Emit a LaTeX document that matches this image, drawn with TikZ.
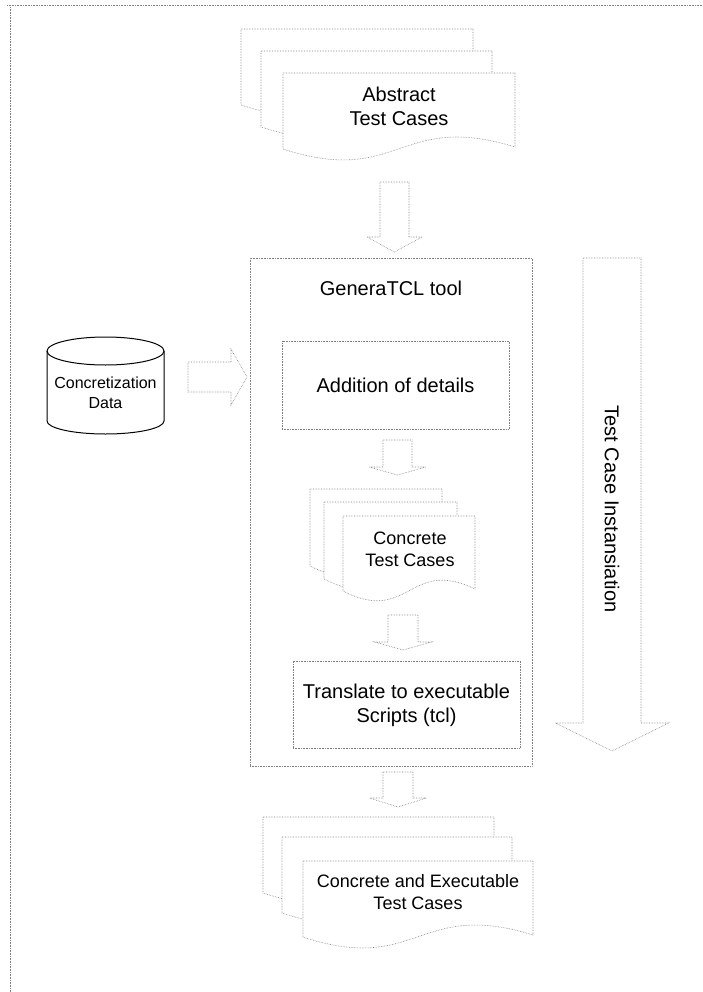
\documentclass[tikz,border=0pt]{standalone}
\usepackage{fontspec}
\setmainfont{Liberation Sans}
\usetikzlibrary{calc}
\tikzset{
  ln/.style={draw=black!50, densely dotted, line width=0.6pt},
  boxnode/.style={ln, rectangle, inner sep=0pt},
  lbl/.style={font=\fontsize{20}{24}\selectfont, align=center, inner sep=0pt},
  lblsm/.style={font=\fontsize{18}{22}\selectfont, align=center, inner sep=0pt},
}
% page of a document stack: x, top y (pixels), width, height, wave amplitude
\newcommand\docpage[5]{%
  \filldraw[ln, fill=white] (#1,-#2) -- (#1+#3,-#2) -- (#1+#3,-#2-#4+2)
    .. controls (#1+#3/2,-#2-#4+#5) and (#1+#3/2,-#2-#4-#5) .. (#1,-#2-#4) -- cycle;}
% downward block arrow between two named coordinates
\newcommand\blkdown[5]{%
  \filldraw[ln, fill=white] let \p1=(#1), \p2=(#2) in
    (\x1-#3pt,\y1) -- (\x1+#3pt,\y1) -- (\x1+#3pt,\y2+#5pt) -- (\x1+#4pt,\y2+#5pt)
    -- (\x2,\y2) -- (\x1-#4pt,\y2+#5pt) -- (\x1-#3pt,\y2+#5pt) -- cycle;}
% rightward block arrow between two named coordinates
\newcommand\blkright[5]{%
  \filldraw[ln, fill=white] let \p1=(#1), \p2=(#2) in
    (\x1,\y1+#3pt) -- (\x2-#5pt,\y1+#3pt) -- (\x2-#5pt,\y1+#4pt) -- (\x2,\y2)
    -- (\x2-#5pt,\y1-#4pt) -- (\x2-#5pt,\y1-#3pt) -- (\x1,\y1-#3pt) -- cycle;}
\begin{document}
\begin{tikzpicture}[x=1pt,y=1pt]
\useasboundingbox (0,0) rectangle (703,-992);
% outer frame (top and left)
\draw[ln] (7,-5.5) -- (703,-5.5);
\draw[ln] (10.5,-5.5) -- (10.5,-992);

% top stack: abstract test cases
\docpage{241}{29}{232}{76}{38}
\docpage{261}{51}{231}{76}{38}
\docpage{283}{73}{232}{76}{38}
\node[lbl] (abs) at (399,-106) {Abstract\\Test Cases};

% arrow 1
\coordinate (a1s) at (394.5,-182);
\coordinate (a1e) at (394.5,-252);
\blkdown{a1s}{a1e}{14.5}{27.5}{15}

% GeneraTCL tool frame
\node[boxnode, minimum width=282pt, minimum height=508pt] (gen) at (391,-512) {};
\node[lbl] (gentitle) at (391,-288) {GeneraTCL tool};

% concretization data cylinder
\node[font=\fontsize{16}{20}\selectfont, align=center, inner sep=0pt] (cyl) at (105.5,-393) {Concretization\\Data};
\draw[black, line width=1pt] (47,-351) -- (47,-421)
  arc[start angle=180, end angle=360, x radius=58.5, y radius=13] -- (164,-351);
\draw[black, line width=1pt] (105.5,-351) ellipse [x radius=58.5, y radius=14];

% arrow from data to tool
\coordinate (ahs) at (188,-377);
\coordinate (ahe) at (247,-377);
\blkright{ahs}{ahe}{15}{28}{16}

% addition of details
\node[boxnode, minimum width=227pt, minimum height=88pt] (add) at (395.5,-385) {};
\node[lbl] (addt) at (395.5,-385) {Addition of details};

% arrow 2
\coordinate (a2s) at (397.5,-440);
\coordinate (a2e) at (397.5,-475);
\blkdown{a2s}{a2e}{14.5}{28.5}{8}

% concrete test cases stack
\docpage{310}{489}{132}{77}{34}
\docpage{324}{502}{133}{77}{34}
\docpage{343}{516}{132}{75}{34}
\node[lblsm] (conc) at (410,-549) {Concrete\\Test Cases};

% arrow 3
\coordinate (a3s) at (403,-615);
\coordinate (a3e) at (403,-650);
\blkdown{a3s}{a3e}{15}{28.5}{8}

% translate box
\node[boxnode, minimum width=227pt, minimum height=87pt] (trans) at (406.5,-704.5) {};
\node[lbl] (transt) at (406.5,-705) {Translate to executable\\Scripts (tcl)};

% arrow 4
\coordinate (a4s) at (398,-772);
\coordinate (a4e) at (398,-807);
\blkdown{a4s}{a4e}{15}{28.5}{9}

% final stack
\docpage{263}{817}{231}{76}{38}
\docpage{282}{837}{230}{76}{38}
\docpage{303}{861}{230}{76}{38}
\node[lblsm] (final) at (418,-892.5) {Concrete and Executable\\Test Cases};

% big right arrow: test case instansiation
\coordinate (bas) at (612,-258);
\coordinate (bae) at (612,-751);
\blkdown{bas}{bae}{29}{56.5}{28}
\node[lbl, rotate=-90] (inst) at (612,-509) {Test Case Instansiation};
\end{tikzpicture}
\end{document}
